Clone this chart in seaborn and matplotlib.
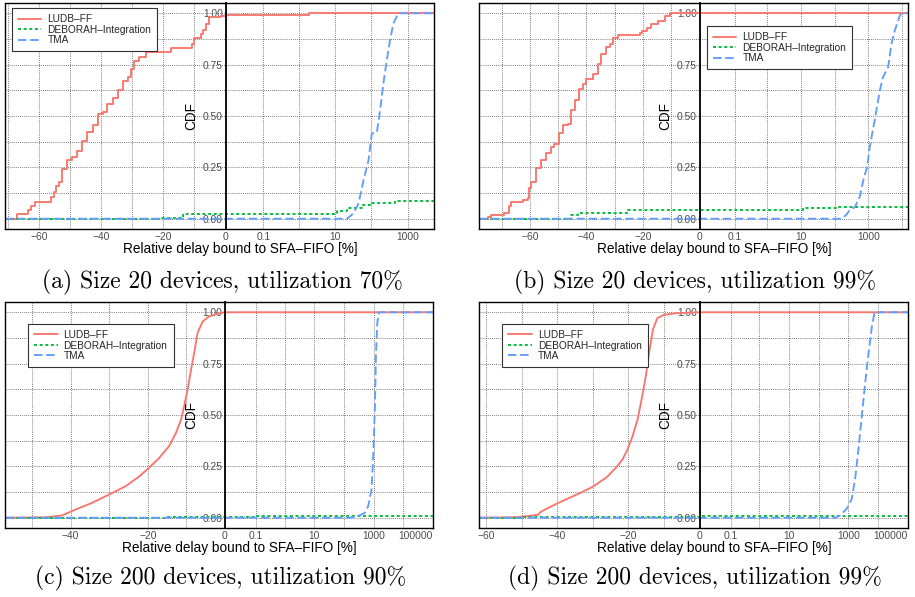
import numpy as np
import matplotlib
matplotlib.use("Agg")
import matplotlib.pyplot as plt
import seaborn as sns
from matplotlib.ticker import FixedLocator, FixedFormatter
from matplotlib.lines import Line2D

sns.set_theme(style="white")
plt.rcParams['font.family'] = ['Liberation Sans', 'DejaVu Sans']

# ---------------- data ----------------
series_names = ["LUDB–FF", "DEBORAH–Integration", "TMA"]
series_colors = ["#F8766D", "#00BA38", "#619CFF"]

captions = ["(a) Size 20 devices, utilization 70%",
            "(b) Size 20 devices, utilization 99%",
            "(c) Size 200 devices, utilization 90%",
            "(d) Size 200 devices, utilization 99%"]

y_ticks = [0.0, 0.25, 0.5, 0.75, 1.0]
y_ticklabels = ["0.00", "0.25", "0.50", "0.75", "1.00"]
y_minor = [0.125, 0.375, 0.625, 0.875]

# panel (a)
a_xlim = (-71, 5300)
a_xticks = [-60, -40, -20, 0, 0.1, 10, 1000]
a_xticklabels = ["−60", "−40", "−20", "0", "0.1", "10", "1000"]
a_xminor = [-70, -50, -30, -10, 1, 100]
a_ludb_x = [-71, -67.2, -63.5, -62.5, -61.5, -56.2, -55.2, -54.7, -53.7, -52.6, -50.9, -49.3,
            -47.7, -46.1, -44.5, -42.8, -41.2, -39.6, -38.0, -36.3, -34.7, -33.1, -31.5,
            -30.4, -29.4, -27.8, -25.5, -17.6, -10.9, -10.3, -7.8, -7.3, -6.3, -5.2, -1.4,
            0, 2, 5300]
a_ludb_y = [0, 0.023, 0.044, 0.06, 0.082, 0.108, 0.13, 0.157, 0.18, 0.24, 0.285, 0.30,
            0.33, 0.38, 0.42, 0.455, 0.51, 0.52, 0.56, 0.59, 0.625, 0.67, 0.69,
            0.73, 0.77, 0.785, 0.81, 0.83, 0.85, 0.88, 0.90, 0.92, 0.95, 0.98, 0.987,
            0.99, 1.0, 1.0]
a_deb_x = [-71, -20.6, -13.6, 11.5, 21.7, 55.6, 94, 451, 5300]
a_deb_y = [0, 0.005, 0.024, 0.04, 0.052, 0.065, 0.076, 0.087, 0.087]
a_tma_x = [-71, 21.7, 33, 45, 62, 84.5, 104, 143, 176, 217, 267, 330, 406, 556, 5300]
a_tma_y = [0, 0, 0.027, 0.076, 0.19, 0.285, 0.415, 0.42, 0.53, 0.66, 0.77, 0.87, 0.95, 1.0, 1.0]

# panel (b)
b_xlim = (-78, 15000)
b_xticks = [-60, -40, -20, 0, 0.1, 10, 1000]
b_xticklabels = ["−60", "−40", "−20", "0", "0.1", "10", "1000"]
b_xminor = [-70, -50, -30, -10, 1, 100, 10000]
b_ludb_x = [-78, -74.7, -73.9, -69.2, -67.4, -66.8, -62.6, -60.6, -60.3, -59.7, -57.9, -56.1,
            -54.3, -52.6, -51.4, -49.6, -48.4, -46.6, -45.4, -44.2, -42.5, -41.3, -40.1,
            -37.7, -35.9, -34.8, -33.0, -31.8, -30.6, -28.8, -21.1, -20.5, -18.7, -17.0,
            -14.6, -12.2, -10.4, 15000]
b_ludb_y = [0, 0.01, 0.02, 0.03, 0.06, 0.08, 0.09, 0.10, 0.15, 0.18, 0.245, 0.285,
            0.32, 0.35, 0.366, 0.415, 0.455, 0.46, 0.527, 0.576, 0.63, 0.656, 0.68,
            0.705, 0.753, 0.80, 0.834, 0.85, 0.882, 0.894, 0.905, 0.915, 0.93, 0.947,
            0.963, 0.987, 1.0, 1.0]
b_deb_x = [-78, -45.4, -43.0, -25.3, 11.8, 128, 15000]
b_deb_y = [0, 0.02, 0.027, 0.044, 0.05, 0.056, 0.056]
b_tma_x = [-78, 161, 226, 284, 399, 561, 753, 924, 1107, 1629, 2188, 2744, 3855, 4842,
           6070, 8530, 9550, 15000]
b_tma_y = [0, 0, 0.02, 0.044, 0.056, 0.108, 0.205, 0.25, 0.35, 0.5, 0.624, 0.69, 0.737,
           0.85, 0.915, 0.987, 1.0, 1.0]

# panel (c)
c_xlim = (-57, 100000)
c_xticks = [-40, -20, 0, 0.1, 10, 1000, 100000]
c_xticklabels = ["−40", "−20", "0", "0.1", "10", "1000", "100000"]
c_xminor = [-50, -30, -10, 1, 100, 10000]
c_ludb_x = [-57, -46.5, -42.2, -38.7, -34.4, -30.0, -25.7, -22.3, -19.7, -17.1, -14.5, -12.7,
            -11.4, -10.6, -9.7, -8.8, -8.0, -7.1, -5.8, -4.1, -1.5, 0, 100000]
c_ludb_y = [0, 0.002, 0.011, 0.04, 0.073, 0.113, 0.154, 0.2, 0.243, 0.29, 0.348, 0.413,
            0.477, 0.542, 0.623, 0.72, 0.80, 0.90, 0.955, 0.98, 0.995, 1.0, 1.0]
c_deb_x = [-57, -15, 0, 0.1, 100000]
c_deb_y = [0, 0.002, 0.005, 0.008, 0.008]
c_tma_x = [-57, 158, 303, 509, 661, 855, 975, 1109, 1199, 1331, 1514, 100000]
c_tma_y = [0, 0, 0.008, 0.024, 0.057, 0.138, 0.30, 0.54, 0.785, 0.947, 1.0, 1.0]

# panel (d)
d_xlim = (-62, 100000)
d_xticks = [-60, -40, -20, 0, 0.1, 10, 1000, 100000]
d_xticklabels = ["−60", "−40", "−20", "0", "0.1", "10", "1000", "100000"]
d_xminor = [-50, -30, -10, 1, 100, 10000]
d_ludb_x = [-62, -52.8, -49.1, -45.4, -44.5, -40.8, -37.2, -33.5, -29.8, -26.1, -23.4, -21.6,
            -20.2, -18.8, -17.4, -16.1, -15.1, -14.2, -13.1, -11.9, -10.1, -6.9, 0, 100000]
d_ludb_y = [0, 0.002, 0.006, 0.015, 0.03, 0.063, 0.092, 0.121, 0.153, 0.197, 0.245, 0.285,
            0.334, 0.398, 0.479, 0.592, 0.689, 0.80, 0.915, 0.971, 0.987, 0.995, 1.0, 1.0]
d_deb_x = [-62, -50, -20, 0, 0.1, 100000]
d_deb_y = [0, 0.002, 0.004, 0.006, 0.009, 0.009]
d_tma_x = [-62, 355.6, 524, 879, 1294, 1679, 2173, 2812, 3646, 4722, 6122, 7516, 100000]
d_tma_y = [0, 0, 0.011, 0.044, 0.092, 0.19, 0.334, 0.495, 0.656, 0.80, 0.93, 1.0, 1.0]

# ---------------- layout ----------------
W, H = 915, 597
fig = plt.figure(figsize=(W / 100, H / 100), dpi=100)
fig.patch.set_facecolor("white")


def px_axes(x0, y0, x1, y1):
    return fig.add_axes([x0 / W, 1 - y1 / H, (x1 - x0) / W, (y1 - y0) / H])


def make_funcs(xmin, xmax, wl=220.0, wr=208.0):
    span = np.log10(1 + 100 * xmax)

    def fwd(x):
        x = np.asarray(x, dtype=float)
        left = x / (-xmin) * wl
        right = np.log10(1 + 100 * np.clip(x, 0, None)) / span * wr
        return np.where(x < 0, left, right)

    def inv(y):
        y = np.asarray(y, dtype=float)
        left = y / wl * (-xmin)
        yy = np.clip(y, 0, 3 * wr)
        right = (10 ** (yy / wr * span) - 1) / 100
        return np.where(y < 0, left, right)

    return fwd, inv


panels = [
    dict(box=(5, 3, 434, 229), xlim=a_xlim, xt=a_xticks, xtl=a_xticklabels, xm=a_xminor,
         data=[(a_ludb_x, a_ludb_y), (a_deb_x, a_deb_y), (a_tma_x, a_tma_y)],
         step=[True, True, False], leg=(0.016, 0.978), cap=(222, 282)),
    dict(box=(479, 3, 908, 229), xlim=b_xlim, xt=b_xticks, xtl=b_xticklabels, xm=b_xminor,
         data=[(b_ludb_x, b_ludb_y), (b_deb_x, b_deb_y), (b_tma_x, b_tma_y)],
         step=[True, True, False], leg=(0.531, 0.898), cap=(695, 282)),
    dict(box=(5, 302, 433, 528), xlim=c_xlim, xt=c_xticks, xtl=c_xticklabels, xm=c_xminor,
         data=[(c_ludb_x, c_ludb_y), (c_deb_x, c_deb_y), (c_tma_x, c_tma_y)],
         step=[False, True, False], leg=(0.054, 0.903), cap=(221, 578)),
    dict(box=(479, 302, 908, 528), xlim=d_xlim, xt=d_xticks, xtl=d_xticklabels, xm=d_xminor,
         data=[(d_ludb_x, d_ludb_y), (d_deb_x, d_deb_y), (d_tma_x, d_tma_y)],
         step=[False, True, False], leg=(0.054, 0.903), cap=(695, 578)),
]

line_styles = ["-", (0, (1.6, 1.4)), (0, (4.5, 2.0))]

for p, cap in zip(panels, captions):
    ax = px_axes(*p['box'])
    fwd, inv = make_funcs(*p['xlim'])
    ax.set_xscale('function', functions=(fwd, inv))
    for (xs, ys), name, col, ls, st in zip(p['data'], series_names, series_colors,
                                           line_styles, p['step']):
        sns.lineplot(x=xs, y=ys, ax=ax, color=col, lw=1.35, linestyle=ls,
                     estimator=None, sort=False, label=name,
                     drawstyle='steps-post' if st else 'default')
    ax.set_xlim(*p['xlim'])
    ax.set_ylim(-0.05, 1.05)

    ax.xaxis.set_major_locator(FixedLocator(p['xt']))
    ax.xaxis.set_major_formatter(FixedFormatter(p['xtl']))
    ax.xaxis.set_minor_locator(FixedLocator(p['xm']))
    ax.yaxis.set_major_locator(FixedLocator(y_ticks))
    ax.yaxis.set_major_formatter(FixedFormatter(y_ticklabels))
    ax.yaxis.set_minor_locator(FixedLocator(y_minor))
    ax.grid(True, which='both', color='#555555', linestyle=(0, (1, 1.5)), linewidth=0.6)
    ax.set_axisbelow(True)
    ax.tick_params(which='both', length=0)
    ax.tick_params(axis='both', which='major', labelsize=7.4, labelcolor='#4D4D4D', pad=2)

    for s in ['top', 'right', 'bottom']:
        ax.spines[s].set_color('black')
        ax.spines[s].set_linewidth(1.0)
        ax.spines[s].set_visible(True)
    ax.spines['left'].set_position(('data', 0))
    ax.spines['left'].set_color('black')
    ax.spines['left'].set_linewidth(1.3)
    ax.spines['left'].set_visible(True)
    ax.add_artist(Line2D([0, 0], [0, 1], transform=ax.transAxes, color='black',
                         lw=1.0, clip_on=False))

    ax.set_ylabel("CDF", fontsize=9.8, color='black', labelpad=3)
    ax.set_xlabel("Relative delay bound to SFA–FIFO [%]", fontsize=9.8, color='black')
    ax.xaxis.set_label_coords(0.548, -0.058)

    for lab in ax.get_xticklabels():
        if lab.get_text() == "100000":
            lab.set_horizontalalignment('right')

    handles, labels = ax.get_legend_handles_labels()
    leg = ax.legend(handles, labels, loc='upper left', bbox_to_anchor=p['leg'],
                    borderaxespad=0, frameon=True, fancybox=False, edgecolor='#333333',
                    framealpha=1, fontsize=7.3, handlelength=2.3, handletextpad=0.6,
                    labelspacing=0.05, borderpad=0.6)
    leg.get_frame().set_linewidth(0.8)

    fig.text(p['cap'][0] / W, 1 - p['cap'][1] / H, cap, ha='center', va='center',
             fontfamily='cmr10', fontsize=17, color='black')

fig.savefig("out.png", dpi=100)
